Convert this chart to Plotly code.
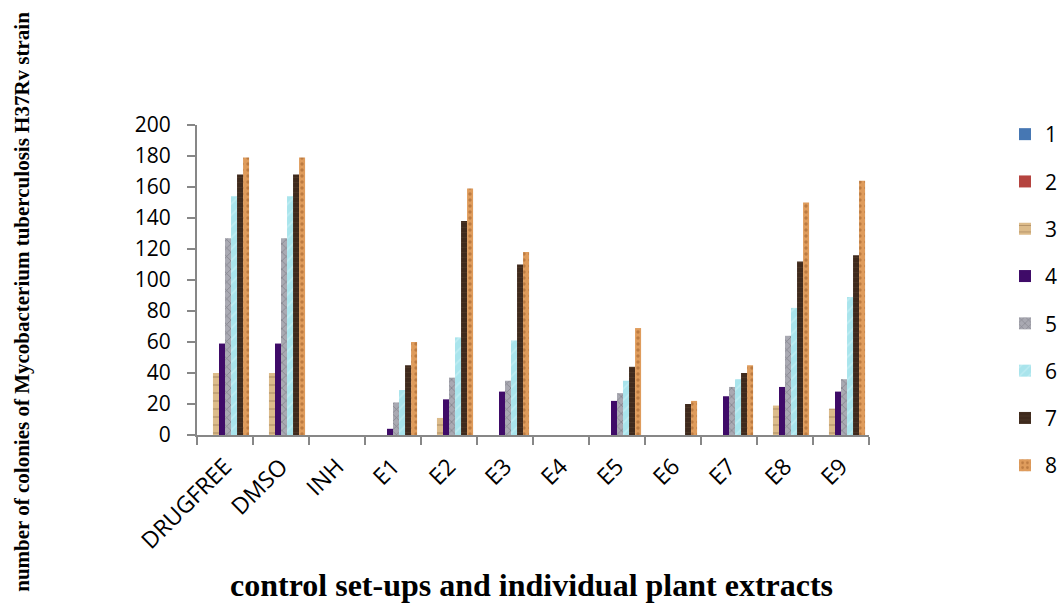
import plotly.graph_objects as go

categories = ["DRUGFREE", "DMSO", "INH", "E1", "E2", "E3", "E4", "E5", "E6", "E7", "E8", "E9"]
series_names = ["1", "2", "3", "4", "5", "6", "7", "8"]

s1 = [0, 0, 0, 0, 0, 0, 0, 0, 0, 0, 0, 0]
s2 = [0, 0, 0, 0, 0, 0, 0, 0, 0, 0, 0, 0]
s3 = [40, 40, 0, 0, 11, 0, 0, 0, 0, 0, 19, 17]
s4 = [59, 59, 0, 4, 23, 28, 0, 22, 0, 25, 31, 28]
s5 = [127, 127, 0, 21, 37, 35, 0, 27, 0, 31, 64, 36]
s6 = [154, 154, 0, 29, 63, 61, 0, 35, 0, 36, 82, 89]
s7 = [168, 168, 0, 45, 138, 110, 0, 44, 20, 40, 112, 116]
s8 = [179, 179, 0, 60, 159, 118, 0, 69, 22, 45, 150, 164]

values = [s1, s2, s3, s4, s5, s6, s7, s8]

colors = ["#4677b3", "#b5443f", "#dcbb8a", "#3f0b68", "#a9a9b2", "#a9e4ec", "#3f2a1d", "#df9c5c"]
patterns = [
    dict(),
    dict(),
    dict(shape="-", fgcolor="#8a6a45", size=8, solidity=0.15),
    dict(),
    dict(shape="x", fgcolor="#5f5f68", size=6, solidity=0.25),
    dict(shape="/", fgcolor="#d4f4f8", size=8, solidity=0.2),
    dict(shape="-", fgcolor="#57402e", size=5, solidity=0.2),
    dict(shape=".", fgcolor="#9a5a25", size=6, solidity=0.25),
]

fig = go.Figure()
for name, vals, col, pat in zip(series_names, values, colors, patterns):
    marker = dict(color=col, line=dict(width=0))
    if pat:
        marker["pattern"] = dict(bgcolor=col, **pat)
    fig.add_trace(go.Bar(
        x=categories, y=vals, name=name, marker=marker,
        legendgroup=name,
    ))

axis_gray = "#878787"
sans = "Open Sans, Liberation Sans, sans-serif"
serif = "Liberation Serif, Times New Roman, serif"

fig.update_layout(
    width=1063, height=603,
    margin=dict(l=197, r=194, t=125, b=168, autoexpand=False),
    paper_bgcolor="white", plot_bgcolor="white",
    barmode="group", bargap=0.14, bargroupgap=0,
    showlegend=True,
    legend=dict(
        xref="container", yref="container",
        x=1005 / 1063, y=1 - 114 / 603, xanchor="left", yanchor="top",
        font=dict(family=sans, size=21, color="#000000"),
        tracegroupgap=17, itemwidth=30, bgcolor="rgba(0,0,0,0)",
        maxheight=590,
    ),
    xaxis=dict(
        type="category", tickangle=-45,
        tickfont=dict(family=sans, size=23, color="#000000"),
        showline=True, linecolor=axis_gray, linewidth=2,
        ticks="outside", tickson="boundaries", tickcolor=axis_gray, ticklen=8, tickwidth=2,
        showgrid=False, zeroline=False, ticklabelstandoff=7,
    ),
    yaxis=dict(
        range=[0, 200], dtick=20,
        tickfont=dict(family=sans, size=21, color="#000000"),
        showline=True, linecolor=axis_gray, linewidth=2,
        ticks="outside", tickcolor=axis_gray, ticklen=8, tickwidth=2,
        showgrid=False, zeroline=False, ticklabelstandoff=12,
    ),
    annotations=[
        dict(
            text="<b>number of colonies of Mycobacterium tuberculosis H37Rv strain</b>",
            xref="paper", yref="paper", x=(22 - 197) / 672, y=(435 - 302) / 309.5,
            xanchor="center", yanchor="middle", textangle=-90, showarrow=False,
            font=dict(family=serif, size=21, color="#000000"),
        ),
        dict(
            text="<b>control set-ups and individual plant extracts</b>",
            xref="paper", yref="paper", x=(531 - 197) / 672, y=(435 - 585) / 309.5,
            xanchor="center", yanchor="middle", showarrow=False,
            font=dict(family=serif, size=32, color="#000000"),
        ),
    ],
)

fig.write_html("out.html")
